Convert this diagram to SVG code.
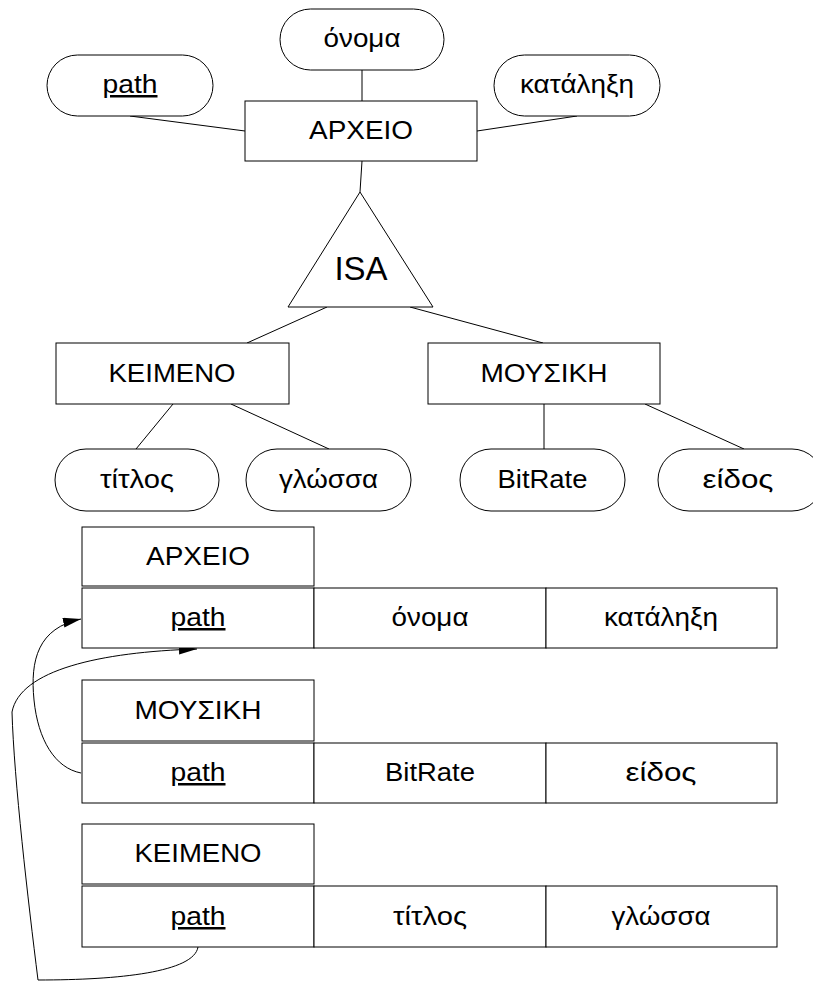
<svg xmlns="http://www.w3.org/2000/svg" width="813" height="982" viewBox="0 0 813 982">
  <style>
    .shape { fill: #fff; stroke: #000; stroke-width: 1; }
    .line { fill: none; stroke: #000; stroke-width: 1; }
    .lbl { font-family: "Liberation Sans", Arial, sans-serif; font-size: 25px; fill: #000; text-anchor: middle; }
    .key { text-decoration: underline; }
    .isa { font-size: 33px; }
  </style>
  <defs>
    <marker id="arrow" markerUnits="userSpaceOnUse" markerWidth="20" markerHeight="12" refX="18" refY="5" orient="auto">
      <path d="M0,0 L18,5 L0,10 Z" fill="#000"/>
    </marker>
  </defs>
  <rect width="813" height="982" fill="#fff"/>

  <!-- connectors of the ER part -->
  <g id="connectors">
    <line class="line" x1="362" y1="70" x2="362" y2="101"/>
    <line class="line" x1="130" y1="116" x2="245" y2="131"/>
    <line class="line" x1="577" y1="116" x2="477" y2="131"/>
    <line class="line" x1="362" y1="161" x2="360" y2="192"/>
    <line class="line" x1="327" y1="307" x2="247" y2="343"/>
    <line class="line" x1="410" y1="307" x2="543" y2="343"/>
    <line class="line" x1="173" y1="404" x2="136" y2="449"/>
    <line class="line" x1="231" y1="404" x2="329" y2="449"/>
    <line class="line" x1="544" y1="404" x2="544" y2="449"/>
    <line class="line" x1="645" y1="404" x2="744" y2="449"/>
    <!-- foreign key references -->
    <path class="line" d="M81,773 C55,768 38,740 34,700 C30,660 38,628 81,619" marker-end="url(#arrow)"/>
    <path class="line" d="M198,947 C194,972 120,980 38,980 C28,900 14,780 12,712 C20,670 100,652 197,649" marker-end="url(#arrow)"/>
  </g>

  <!-- entity ΑΡΧΕΙΟ and its attributes -->
  <g id="attr-onoma">
    <rect class="shape" x="280" y="9" width="164" height="61" rx="30.5"/>
    <text class="lbl" x="362" y="47" textLength="77" lengthAdjust="spacingAndGlyphs">όνομα</text>
  </g>
  <g id="attr-path">
    <rect class="shape" x="47" y="55" width="166" height="61" rx="30.5"/>
    <text class="lbl key" x="130" y="93" textLength="55" lengthAdjust="spacingAndGlyphs">path</text>
  </g>
  <g id="attr-katalixi">
    <rect class="shape" x="494" y="55" width="166" height="61" rx="30.5"/>
    <text class="lbl" x="577" y="93" textLength="114" lengthAdjust="spacingAndGlyphs">κατάληξη</text>
  </g>
  <g id="ent-arxeio">
    <rect class="shape" x="245" y="101" width="232" height="60"/>
    <text class="lbl" x="361" y="139" textLength="104" lengthAdjust="spacingAndGlyphs">ΑΡΧΕΙΟ</text>
  </g>

  <!-- ISA specialisation -->
  <g id="isa">
    <polygon class="shape" points="360,192 288,307 433,307"/>
    <text class="lbl isa" x="361" y="280">ISA</text>
  </g>

  <!-- sub-entities -->
  <g id="ent-keimeno">
    <rect class="shape" x="56" y="343" width="233" height="61"/>
    <text class="lbl" x="172" y="382" textLength="127" lengthAdjust="spacingAndGlyphs">ΚΕΙΜΕΝΟ</text>
  </g>
  <g id="ent-mousiki">
    <rect class="shape" x="428" y="343" width="232" height="61"/>
    <text class="lbl" x="544" y="382" textLength="127" lengthAdjust="spacingAndGlyphs">ΜΟΥΣΙΚΗ</text>
  </g>
  <g id="attr-titlos">
    <rect class="shape" x="55" y="449" width="164" height="62" rx="31"/>
    <text class="lbl" x="137" y="488" textLength="74" lengthAdjust="spacingAndGlyphs">τίτλος</text>
  </g>
  <g id="attr-glossa">
    <rect class="shape" x="246" y="449" width="165" height="62" rx="31"/>
    <text class="lbl" x="328.5" y="488" textLength="99" lengthAdjust="spacingAndGlyphs">γλώσσα</text>
  </g>
  <g id="attr-bitrate">
    <rect class="shape" x="460" y="449" width="165" height="62" rx="31"/>
    <text class="lbl" x="542.5" y="488" textLength="90" lengthAdjust="spacingAndGlyphs">BitRate</text>
  </g>
  <g id="attr-eidos">
    <rect class="shape" x="658" y="449" width="165" height="62" rx="31"/>
    <text class="lbl" x="738" y="488" textLength="71" lengthAdjust="spacingAndGlyphs">είδος</text>
  </g>

  <!-- relational tables -->
  <g id="table-arxeio">
    <rect class="shape" x="82" y="527" width="232" height="59"/>
    <text class="lbl" x="198" y="565" textLength="104" lengthAdjust="spacingAndGlyphs">ΑΡΧΕΙΟ</text>
    <rect class="shape" x="82" y="588" width="232" height="60"/>
    <rect class="shape" x="314" y="588" width="232" height="60"/>
    <rect class="shape" x="546" y="588" width="231" height="60"/>
    <text class="lbl key" x="198" y="626" textLength="55" lengthAdjust="spacingAndGlyphs">path</text>
    <text class="lbl" x="430" y="626" textLength="77" lengthAdjust="spacingAndGlyphs">όνομα</text>
    <text class="lbl" x="661" y="626" textLength="114" lengthAdjust="spacingAndGlyphs">κατάληξη</text>
  </g>
  <g id="table-mousiki">
    <rect class="shape" x="82" y="680" width="232" height="61"/>
    <text class="lbl" x="198" y="719" textLength="127" lengthAdjust="spacingAndGlyphs">ΜΟΥΣΙΚΗ</text>
    <rect class="shape" x="82" y="743" width="232" height="60"/>
    <rect class="shape" x="314" y="743" width="232" height="60"/>
    <rect class="shape" x="546" y="743" width="231" height="60"/>
    <text class="lbl key" x="198" y="781" textLength="55" lengthAdjust="spacingAndGlyphs">path</text>
    <text class="lbl" x="430" y="781" textLength="90" lengthAdjust="spacingAndGlyphs">BitRate</text>
    <text class="lbl" x="661" y="781" textLength="71" lengthAdjust="spacingAndGlyphs">είδος</text>
  </g>
  <g id="table-keimeno">
    <rect class="shape" x="82" y="824" width="232" height="60"/>
    <text class="lbl" x="198" y="862" textLength="127" lengthAdjust="spacingAndGlyphs">ΚΕΙΜΕΝΟ</text>
    <rect class="shape" x="82" y="886" width="232" height="61"/>
    <rect class="shape" x="314" y="886" width="232" height="61"/>
    <rect class="shape" x="546" y="886" width="231" height="61"/>
    <text class="lbl key" x="198" y="925" textLength="55" lengthAdjust="spacingAndGlyphs">path</text>
    <text class="lbl" x="430" y="925" textLength="74" lengthAdjust="spacingAndGlyphs">τίτλος</text>
    <text class="lbl" x="661" y="925" textLength="99" lengthAdjust="spacingAndGlyphs">γλώσσα</text>
  </g>
</svg>
